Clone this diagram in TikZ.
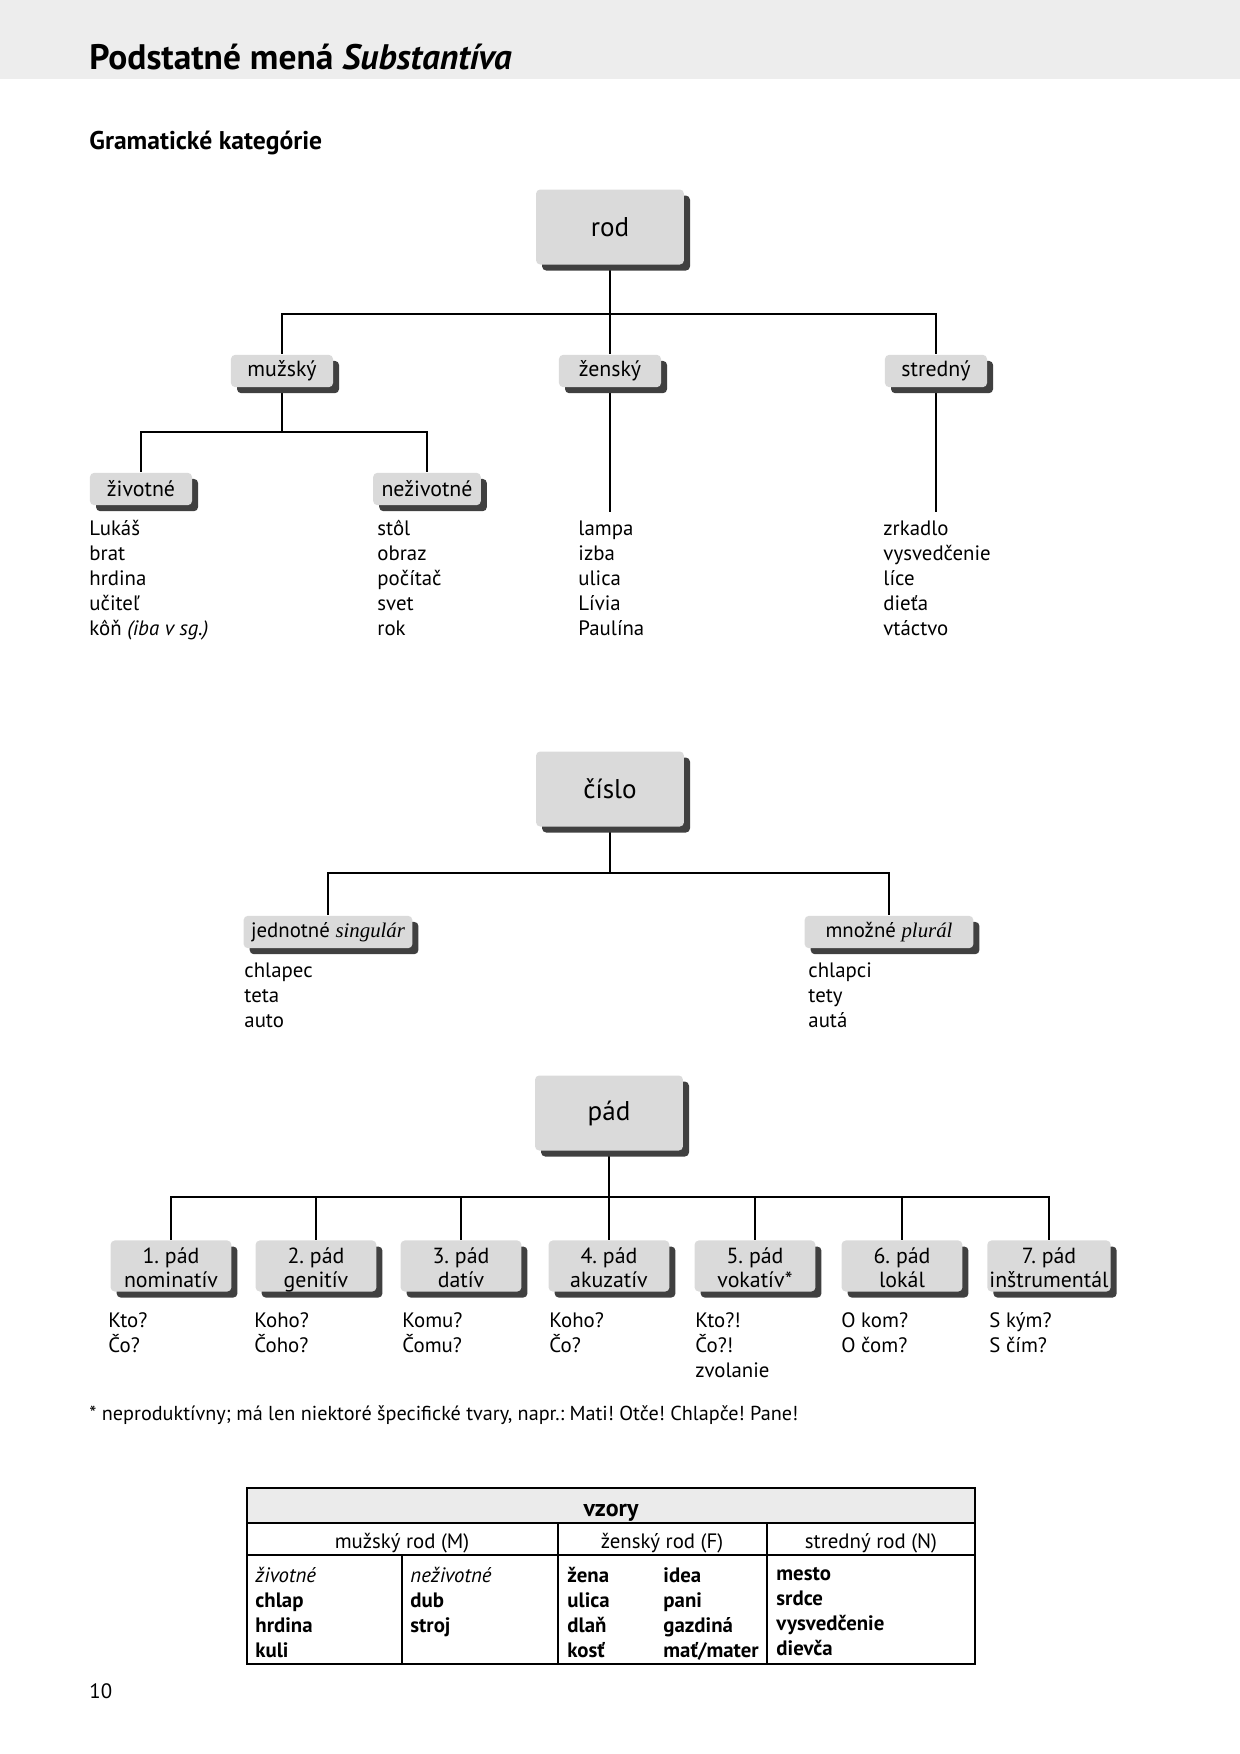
\documentclass[tikz,border=0pt]{standalone}
\usepackage{fontspec}
\setmainfont{PT Sans}
\newfontfamily\serifface{Liberation Serif}
\usetikzlibrary{shadows,backgrounds}

\definecolor{boxgray}{HTML}{DADADA}
\definecolor{shadowgray}{HTML}{404040}
\definecolor{bandgray}{HTML}{EDEDED}
\definecolor{headgray}{HTML}{EBEBEB}

\frenchspacing

\begin{document}
\begin{tikzpicture}[x=0.48pt, y=-0.48pt,
    boxshadow/.style={drop shadow={shadow xshift=2.9pt, shadow yshift=-2.9pt, fill=shadowgray, opacity=1}},
    bigbox/.style={rectangle, rounded corners=2pt, fill=boxgray, minimum width=71pt, minimum height=36pt, font=\fontsize{13}{15}\selectfont, boxshadow},
    catbox/.style={rectangle, rounded corners=2pt, fill=boxgray, minimum width=49pt, minimum height=15.5pt, inner xsep=4pt, inner ysep=1pt, font=\fontsize{10.5}{12}\selectfont, boxshadow},
    numbox/.style={catbox, minimum width=81pt, inner xsep=2pt, font=\fontsize{10}{12}\selectfont},
    casebox/.style={rectangle, rounded corners=2pt, fill=boxgray, minimum width=58pt, minimum height=24.5pt, inner sep=1pt, align=center, text height=21.8pt, text depth=0.7pt, font=\fontsize{10.5}{11.8}\selectfont, boxshadow},
    wordlist/.style={anchor=north west, align=left, inner sep=0pt, font=\fontsize{10}{12}\selectfont},
    conn/.style={line width=0.9pt}]
    \useasboundingbox (0,0) rectangle (1240,1754);
    \begin{scope}[on background layer]
        \fill[bandgray] (0,0) rectangle (1240,79);
    \end{scope}

    \node[anchor=base west, inner sep=0pt, font=\fontsize{17}{20}\selectfont\bfseries] (title) at (89,69) {Podstatné mená \textit{Substantíva}};
    \node[anchor=base west, inner sep=0pt, font=\fontsize{12.3}{14}\selectfont\bfseries] (subtitle) at (89,149) {Gramatické kategórie};

    % rod
    \node[bigbox] (rod) at (610,227) {rod};
    \coordinate (rodbus) at (610,314);
    \node[catbox] (muz) at (282,371) {mužský};
    \node[catbox] (zen) at (610,371) {ženský};
    \node[catbox] (str) at (936,371) {stredný};
    \coordinate (muzbus) at (282,432);
    \node[catbox] (ziv) at (141,489) {životné};
    \node[catbox] (nez) at (427,489) {neživotné};
    \coordinate (zenend) at (610,512);
    \coordinate (strend) at (936,512);

    \node[wordlist] (zivlist) at (89,520) {Lukáš\\brat\\hrdina\\učiteľ\\kôň \textit{(iba v sg.)}};
    \node[wordlist] (nezlist) at (377,520) {stôl\\obraz\\počítač\\svet\\rok};
    \node[wordlist] (zenlist) at (578,520) {lampa\\izba\\ulica\\Lívia\\Paulína};
    \node[wordlist] (strlist) at (883,520) {zrkadlo\\vysvedčenie\\líce\\dieťa\\vtáctvo};

    % cislo
    \node[bigbox] (cislo) at (610,789) {číslo};
    \coordinate (cislobus) at (610,873);
    \node[numbox] (jed) at (328,932) {jednotné {\serifface\itshape singulár}};
    \node[numbox] (mno) at (889,932) {množné {\serifface\itshape plurál}};

    \node[wordlist] (jedlist) at (244,962) {chlapec\\teta\\auto};
    \node[wordlist] (mnolist) at (808,962) {chlapci\\tety\\autá};

    % pad
    \node[bigbox] (pad) at (609,1113) {pád};
    \coordinate (padbus) at (609,1197);
    \node[casebox] (p1) at (171,1266) {1. pád\\nominatív};
    \node[casebox] (p2) at (316,1266) {2. pád\\genitív};
    \node[casebox] (p3) at (461,1266) {3. pád\\datív};
    \node[casebox] (p4) at (609,1266) {4. pád\\akuzatív};
    \node[casebox] (p5) at (755,1266) {5. pád\\vokatív*};
    \node[casebox] (p6) at (902,1266) {6. pád\\lokál};
    \node[casebox] (p7) at (1049,1266) {7. pád\\inštrumentál};

    \node[wordlist] (q1) at (108,1312) {Kto?\\Čo?};
    \node[wordlist] (q2) at (254,1312) {Koho?\\Čoho?};
    \node[wordlist] (q3) at (402,1312) {Komu?\\Čomu?};
    \node[wordlist] (q4) at (549,1312) {Koho?\\Čo?};
    \node[wordlist] (q5) at (695,1312) {Kto?!\\Čo?!\\zvolanie};
    \node[wordlist] (q6) at (841,1312) {O kom?\\O čom?};
    \node[wordlist] (q7) at (989,1312) {S kým?\\S čím?};

    \node[anchor=base west, inner sep=0pt, font=\fontsize{9.7}{12}\selectfont] (note) at (89,1420) {* neproduktívny; má len niektoré špecifické tvary, napr.: Mati! Otče! Chlapče! Pane!};

    \begin{scope}[on background layer]
        \draw[conn] (rod.south) -- (rodbus);
        \draw[conn] (rodbus) -| (muz.north);
        \draw[conn] (rodbus) -| (str.north);
        \draw[conn] (rodbus) -- (zen.north);
        \draw[conn] (muz.south) -- (muzbus);
        \draw[conn] (muzbus) -| (ziv.north);
        \draw[conn] (muzbus) -| (nez.north);
        \draw[conn] (zen.south) -- (zenend);
        \draw[conn] (str.south) -- (strend);

        \draw[conn] (cislo.south) -- (cislobus);
        \draw[conn] (cislobus) -| (jed.north);
        \draw[conn] (cislobus) -| (mno.north);

        \draw[conn] (pad.south) -- (padbus);
        \draw[conn] (padbus) -| (p1.north);
        \draw[conn] (padbus) -| (p2.north);
        \draw[conn] (padbus) -| (p3.north);
        \draw[conn] (padbus) -- (p4.north);
        \draw[conn] (padbus) -| (p5.north);
        \draw[conn] (padbus) -| (p6.north);
        \draw[conn] (padbus) -| (p7.north);
    \end{scope}

    % vzory
    \fill[headgray] (247,1488) rectangle (975,1523);
    \draw[line width=0.8pt] (247,1523) -- (975,1523);
    \draw[line width=0.8pt] (247,1555) -- (975,1555);
    \draw[line width=0.8pt] (558,1523) -- (558,1664);
    \draw[line width=0.8pt] (767,1523) -- (767,1664);
    \draw[line width=0.8pt] (402,1555) -- (402,1664);
    \draw[line width=1pt] (247,1488) rectangle (975,1664);

    \node[anchor=base, inner sep=0pt, font=\fontsize{11.5}{13}\selectfont\bfseries] (vzory) at (611,1516) {vzory};
    \node[anchor=base, inner sep=0pt, font=\fontsize{10}{12}\selectfont] (hm) at (402,1548) {mužský rod (M)};
    \node[anchor=base, inner sep=0pt, font=\fontsize{10}{12}\selectfont] (hf) at (662,1548) {ženský rod (F)};
    \node[anchor=base, inner sep=0pt, font=\fontsize{10}{12}\selectfont] (hn) at (871,1548) {stredný rod (N)};
    \node[wordlist] (vm1) at (255,1567) {\textit{životné}\\\textbf{chlap}\\\textbf{hrdina}\\\textbf{kuli}};
    \node[wordlist] (vm2) at (410,1567) {\textit{neživotné}\\\textbf{dub}\\\textbf{stroj}};
    \node[wordlist] (vf1) at (567,1567) {\textbf{žena}\\\textbf{ulica}\\\textbf{dlaň}\\\textbf{kosť}};
    \node[wordlist] (vf2) at (663,1567) {\textbf{idea}\\\textbf{pani}\\\textbf{gazdiná}\\\textbf{mať/mater}};
    \node[wordlist] (vn) at (776,1567) {\textbf{mesto}\\\textbf{srdce}\\\textbf{vysvedčenie}\\\textbf{dievča}};

    \node[anchor=west, inner sep=0pt, font=\fontsize{10}{12}\selectfont] (pageno) at (89,1691) {10};
\end{tikzpicture}
\end{document}
